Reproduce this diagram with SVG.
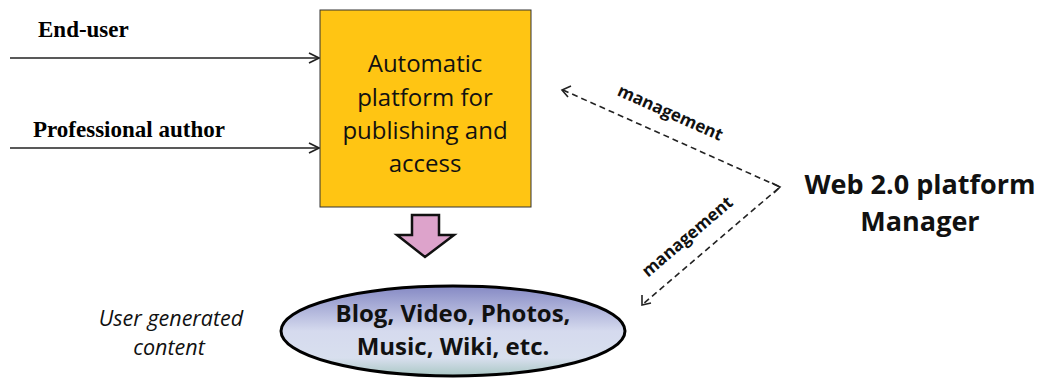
<svg xmlns="http://www.w3.org/2000/svg" width="1039" height="380" viewBox="0 0 1039 380">
<style>
.lbl{font-family:"Liberation Serif",serif;font-weight:bold;font-size:23px;fill:#000}
.box{font-family:"Open Sans","Noto Sans",sans-serif;font-size:24px;fill:#111}
.ell{font-family:"Open Sans","Noto Sans",sans-serif;font-weight:bold;font-size:24px;fill:#111}
.mg{font-family:"Open Sans","Noto Sans",sans-serif;font-weight:bold;font-size:17px;fill:#111}
.web{font-family:"Open Sans","Noto Sans",sans-serif;font-weight:bold;font-size:27px;fill:#111}
.ugc{font-family:"Open Sans","Noto Sans",sans-serif;font-style:italic;font-size:21.5px;fill:#111}
.solid{stroke:#222;stroke-width:1.6;fill:none}
.dash{stroke:#222;stroke-width:1.6;fill:none;stroke-dasharray:6,4}
</style>
<defs>
<marker id="open" viewBox="0 0 12 12" refX="11" refY="6" markerWidth="12" markerHeight="12" markerUnits="userSpaceOnUse" orient="auto">
<path d="M1,1 L11,6 L1,11" fill="none" stroke="#222" stroke-width="1.6"/>
</marker>
<linearGradient id="eg" x1="0" y1="0" x2="0" y2="1">
<stop offset="0" stop-color="#8589C4"/>
<stop offset="0.5" stop-color="#D5DAEE"/>
<stop offset="0.8" stop-color="#D8DFEE"/>
<stop offset="1" stop-color="#A9C7C4"/>
</linearGradient>
</defs>
<rect width="1039" height="380" fill="#fff"/>
<g id="connectors">
<line class="solid" x1="10" y1="58" x2="319" y2="58" marker-end="url(#open)"/>
<line class="solid" x1="10" y1="148" x2="319" y2="148" marker-end="url(#open)"/>
<polyline class="dash" points="563,90 780,187 643,304"/>
<path d="M571,86 L562,90 L568,97" fill="none" stroke="#222" stroke-width="1.6"/>
<path d="M642,295 L642,305 L651,303" fill="none" stroke="#222" stroke-width="1.6"/>
<path d="M772,183 L780,187 L774,193" fill="none" stroke="#222" stroke-width="1.6"/>
<text class="mg" text-anchor="middle" transform="translate(668,118) rotate(24)">management</text>
<text class="mg" text-anchor="middle" transform="translate(691,241) rotate(-40.5)">management</text>
<path d="M412,215 L439,215 L439,235 L454,235 L425,257 L397,235 L412,235 Z" fill="#DDA3CB" stroke="#111" stroke-width="2.5" stroke-linejoin="miter"/>
</g>
<g id="end-user"><text class="lbl" x="38" y="37">End-user</text></g>
<g id="professional-author"><text class="lbl" x="33" y="137">Professional  author</text></g>
<g id="platform">
<rect x="320" y="10" width="211" height="197" fill="#FFC513" stroke="#333" stroke-width="1"/>
<text class="box" text-anchor="middle" x="425" y="72">Automatic</text>
<text class="box" text-anchor="middle" x="425" y="106">platform for</text>
<text class="box" text-anchor="middle" x="425" y="139">publishing and</text>
<text class="box" text-anchor="middle" x="425" y="172">access</text>
</g>
<g id="content">
<ellipse cx="453" cy="331" rx="172" ry="45" fill="url(#eg)" stroke="#000" stroke-width="3"/>
<text class="ell" text-anchor="middle" x="453" y="322">Blog, Video, Photos,</text>
<text class="ell" text-anchor="middle" x="453" y="355">Music, Wiki, etc.</text>
</g>
<g id="ugc-label">
<text class="ugc" text-anchor="middle" x="171" y="326">User generated</text>
<text class="ugc" text-anchor="middle" x="169" y="355">content</text>
</g>
<g id="manager">
<text class="web" text-anchor="middle" x="920" y="194">Web 2.0 platform</text>
<text class="web" text-anchor="middle" x="920" y="231">Manager</text>
</g>
</svg>
